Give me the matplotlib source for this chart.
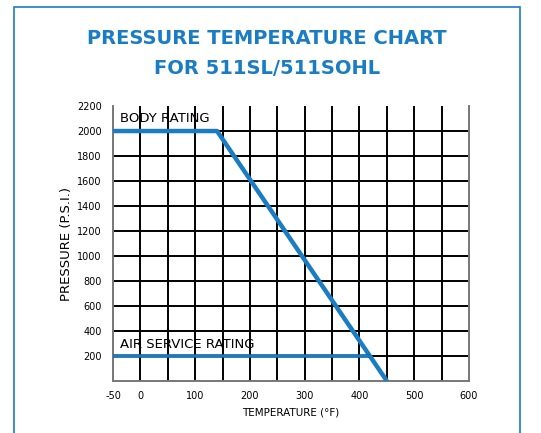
import matplotlib
matplotlib.use("Agg")
import matplotlib.pyplot as plt
from matplotlib.patches import Rectangle

# data
body_temp = [-50, 140, 450]
body_psi = [2000, 2000, 0]
air_temp = [-50, 419]
air_psi = [200, 200]
x_ticks = [-50, 0, 100, 200, 300, 400, 500, 600]
x_labels = ["-50", "0", "100", "200", "300", "400", "500", "600"]
x_grid = [0, 50, 100, 150, 200, 250, 300, 350, 400, 450, 500, 550]
y_ticks = [200, 400, 600, 800, 1000, 1200, 1400, 1600, 1800, 2000, 2200]

blue = "#1a7cc3"

fig = plt.figure(figsize=(5.41, 4.33), dpi=100)
ax = fig.add_axes([0.2089, 0.1201, 0.658, 0.635])

for x in x_grid:
    ax.axvline(x, color="black", lw=1.4, zorder=1)
for y in y_ticks[:-1]:
    ax.axhline(y, color="black", lw=1.4, zorder=1)

ax.plot(body_temp, body_psi, color=blue, lw=3.2, solid_capstyle="butt", zorder=3)
ax.plot(air_temp, air_psi, color="#0f5f9c", lw=2.6, solid_capstyle="butt", zorder=3)
ax.plot(air_temp, air_psi, color=blue, lw=1.4, solid_capstyle="butt", zorder=3)

ax.text(-37, 2045, "BODY RATING", fontsize=9.5, va="bottom", zorder=2)
ax.text(-37, 240, "AIR SERVICE RATING", fontsize=9.5, va="bottom", zorder=2)

ax.set_xlim(-50, 600)
ax.set_ylim(0, 2200)
ax.set_xticks(x_ticks, x_labels)
ax.set_yticks(y_ticks)
ax.tick_params(length=0, labelsize=7)
ax.tick_params(axis="x", pad=7)
ax.tick_params(axis="y", pad=8)
for s in ["left", "bottom", "right"]:
    ax.spines[s].set_color("#777777")
    ax.spines[s].set_linewidth(1.4)
ax.spines["top"].set_visible(False)

ax.set_xlabel("TEMPERATURE (°F)", fontsize=7.5, labelpad=5)
ax.set_ylabel("PRESSURE (P.S.I.)", fontsize=9.5, labelpad=3)

fig.text(0.494, 0.91, "PRESSURE TEMPERATURE CHART", fontweight="bold",
         fontsize=14, color=blue, ha="center", va="center")
fig.text(0.494, 0.842, "FOR 511SL/511SOHL", fontweight="bold",
         fontsize=14, color=blue, ha="center", va="center")

fig.patches.append(Rectangle((14 / 541, -0.1), (520 - 14) / 541, 1.1 - 7 / 433,
                             transform=fig.transFigure, fill=False,
                             edgecolor=blue, lw=1.2))

fig.savefig("out.png", dpi=100)
